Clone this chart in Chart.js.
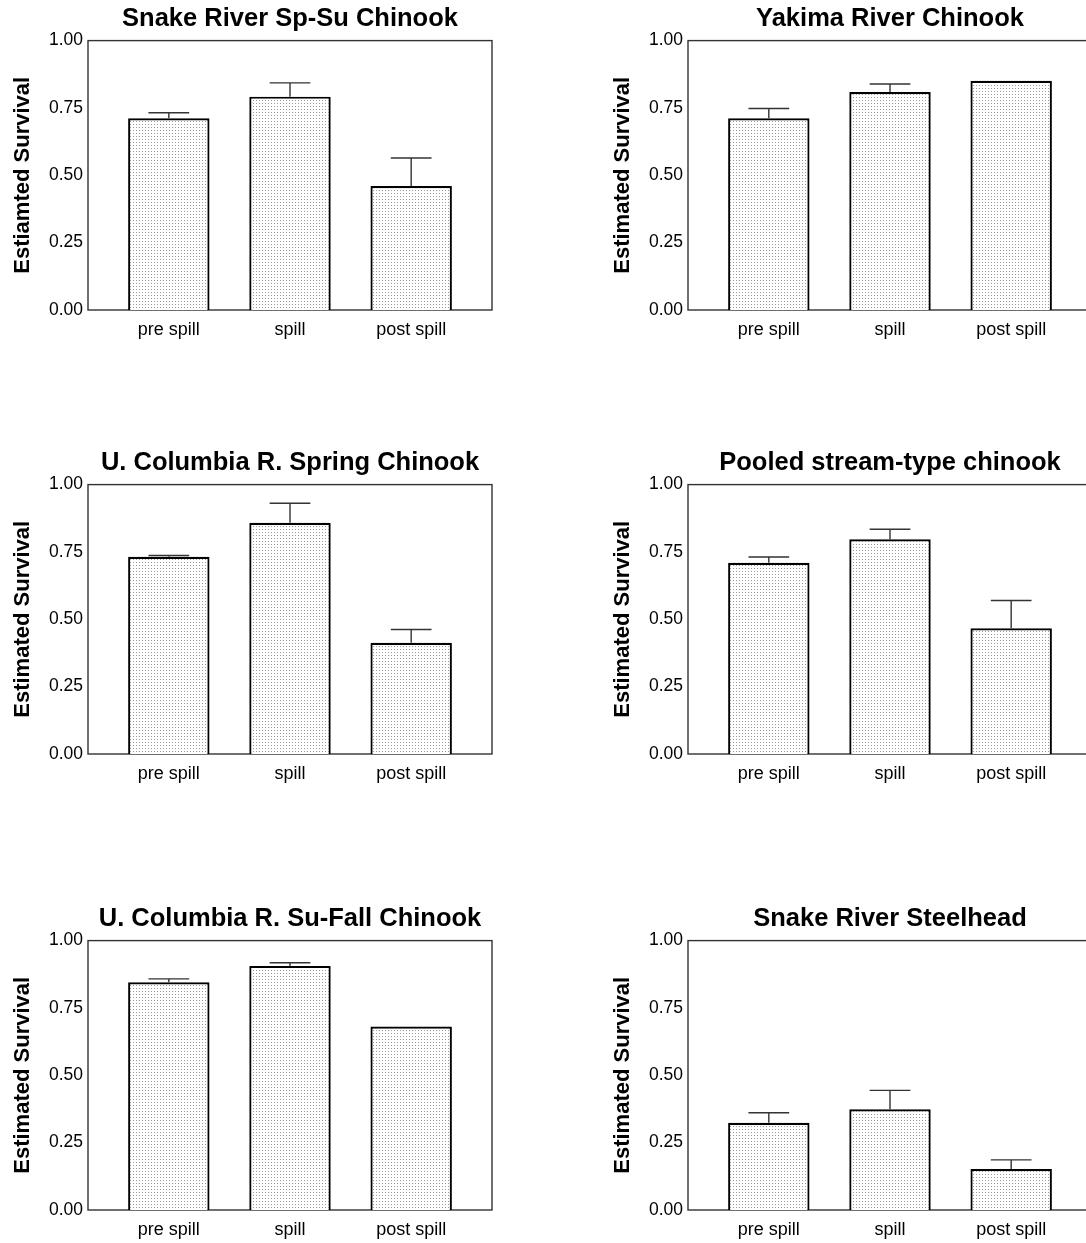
<!DOCTYPE html>
<html>
<head>
<meta charset="utf-8">
<script src="https://cdn.jsdelivr.net/npm/chart.js@4"></script>
<style>
  html, body { margin: 0; padding: 0; background: #fff; }
  body { width: 1086px; height: 1243px; overflow: hidden; position: relative; }
  .panel { position: absolute; width: 500px; height: 350px; }
</style>
</head>
<body>
<div class="panel" style="left:0;top:0"><canvas id="c1"></canvas></div>
<div class="panel" style="left:600px;top:0"><canvas id="c2"></canvas></div>
<div class="panel" style="left:0;top:444px"><canvas id="c3"></canvas></div>
<div class="panel" style="left:600px;top:444px"><canvas id="c4"></canvas></div>
<div class="panel" style="left:0;top:900px"><canvas id="c5"></canvas></div>
<div class="panel" style="left:600px;top:900px"><canvas id="c6"></canvas></div>
<script>
// --- data ---
const categories = ['pre spill', 'spill', 'post spill'];
const yTicks = [0, 0.25, 0.5, 0.75, 1];

const snakeSpSu = [0.712, 0.792, 0.460];
const snakeSpSuErr = [0.020, 0.051, 0.104];
const yakima = [0.712, 0.809, 0.851];
const yakimaErr = [0.036, 0.030, 0];
const ucolSpring = [0.732, 0.858, 0.413];
const ucolSpringErr = [0.005, 0.073, 0.049];
const pooled = [0.710, 0.797, 0.467];
const pooledErr = [0.021, 0.037, 0.103];
const ucolSuFall = [0.845, 0.906, 0.681];
const ucolSuFallErr = [0.013, 0.012, 0];
const steelhead = [0.324, 0.374, 0.152];
const steelheadErr = [0.037, 0.070, 0.034];

const panels = [
  { id: 'c1', title: 'Snake River Sp-Su Chinook', ylabel: 'Estiamted Survival', values: snakeSpSu, err: snakeSpSuErr },
  { id: 'c2', title: 'Yakima River Chinook', ylabel: 'Estimated Survival', values: yakima, err: yakimaErr },
  { id: 'c3', title: 'U. Columbia R. Spring Chinook', ylabel: 'Estimated Survival', values: ucolSpring, err: ucolSpringErr },
  { id: 'c4', title: 'Pooled stream-type chinook', ylabel: 'Estimated Survival', values: pooled, err: pooledErr },
  { id: 'c5', title: 'U. Columbia R. Su-Fall Chinook', ylabel: 'Estimated Survival', values: ucolSuFall, err: ucolSuFallErr },
  { id: 'c6', title: 'Snake River Steelhead', ylabel: 'Estimated Survival', values: steelhead, err: steelheadErr }
];

const FONT = "'Liberation Sans', Arial, sans-serif";
const AXIS_COLOR = '#333';

// fine gray dot fill used in the bars
function dotPattern() {
  const c = document.createElement('canvas');
  c.width = 3; c.height = 3;
  const g = c.getContext('2d');
  g.fillStyle = '#fff';
  g.fillRect(0, 0, 3, 3);
  g.fillStyle = '#999';
  g.fillRect(1, 1, 1, 1);
  return g.createPattern(c, 'repeat');
}

// box around the plot
const frame = {
  id: 'frame',
  beforeDatasetsDraw(chart) {
    const a = chart.chartArea, ctx = chart.ctx;
    ctx.save();
    ctx.strokeStyle = AXIS_COLOR;
    ctx.lineWidth = 1.4;
    ctx.strokeRect(a.left, a.top, a.right - a.left, a.bottom - a.top);
    ctx.restore();
  }
};

// one-sided (upper) error bars
const errorBars = {
  id: 'errorBars',
  afterDatasetsDraw(chart, args, opts) {
    const ctx = chart.ctx;
    const meta = chart.getDatasetMeta(0);
    const xs = chart.scales.x, ys = chart.scales.y;
    ctx.save();
    ctx.strokeStyle = '#333';
    ctx.lineWidth = 1.4;
    opts.err.forEach((e, i) => {
      if (!e) return;
      const v = opts.values[i];
      const x = xs.getPixelForValue(i);
      const y0 = ys.getPixelForValue(v);
      const y1 = ys.getPixelForValue(v + e);
      const half = meta.data[i].width / 4;
      ctx.beginPath();
      ctx.moveTo(x, y0);
      ctx.lineTo(x, y1);
      ctx.moveTo(x - half, y1);
      ctx.lineTo(x + half, y1);
      ctx.stroke();
    });
    ctx.restore();
  }
};

const fill = dotPattern();

panels.forEach(p => {
  new Chart(document.getElementById(p.id), {
    type: 'bar',
    data: {
      datasets: [{
        data: p.values.map((v, i) => ({ x: i, y: v })),
        backgroundColor: fill,
        borderColor: '#000',
        borderWidth: 2.2,
        barPercentage: 0.672,
        categoryPercentage: 1
      }]
    },
    plugins: [frame, errorBars],
    options: {
      responsive: true,
      maintainAspectRatio: false,
      animation: false,
      layout: { padding: { left: 0, right: 8, top: 0, bottom: 0 } },
      plugins: {
        legend: { display: false },
        tooltip: { enabled: false },
        title: {
          display: true,
          fullSize: false,
          text: p.title,
          color: '#000',
          font: { family: FONT, size: 25.5, weight: 'bold' },
          padding: { top: 4, bottom: 6 }
        },
        errorBars: { values: p.values, err: p.err }
      },
      scales: {
        x: {
          type: 'linear',
          min: -0.667,
          max: 2.667,
          offset: false,
          grid: { display: false, drawTicks: false },
          border: { display: false },
          afterBuildTicks: s => { s.ticks = categories.map((c, i) => ({ value: i })); },
          afterFit: s => { s.height = 40; },
          ticks: {
            autoSkip: false,
            maxRotation: 0,
            padding: 9,
            color: '#000',
            font: { family: FONT, size: 18 },
            callback: v => categories[v]
          }
        },
        y: {
          min: 0,
          max: 1,
          grid: { display: false, drawTicks: false },
          border: { display: false },
          afterBuildTicks: s => { s.ticks = yTicks.map(v => ({ value: v })); },
          afterFit: s => { s.width = 88; },
          ticks: {
            padding: 5,
            color: '#000',
            font: { family: FONT, size: 17.5 },
            callback: v => v.toFixed(2)
          },
          title: {
            display: true,
            text: p.ylabel,
            color: '#000',
            font: { family: FONT, size: 22, weight: 'bold' },
            padding: { top: 10, bottom: 0 }
          }
        }
      }
    }
  });
});
</script>
</body>
</html>
